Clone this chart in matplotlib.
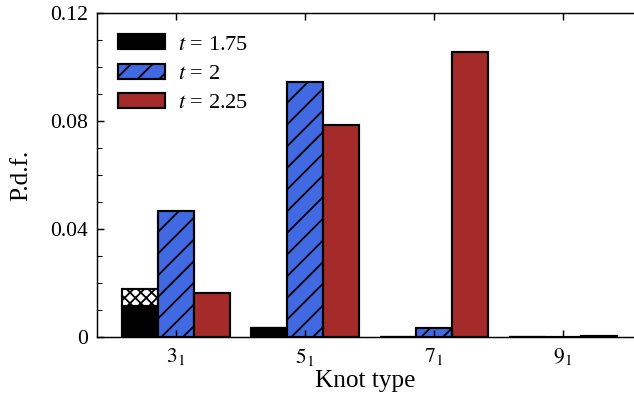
import matplotlib
matplotlib.use('Agg')
import matplotlib.pyplot as plt
import numpy as np

plt.rcParams['font.family'] = 'Liberation Serif'
plt.rcParams['mathtext.fontset'] = 'stix'
plt.rcParams['hatch.linewidth'] = 1.0

knots = ['$3_1$', '$5_1$', '$7_1$', '$9_1$']
p_175 = [0.0116, 0.0032, 0.0, 0.0]
p_175_extra = [0.0061, 0.0, 0.0, 0.0]   # crosshatched part on top of t=1.75
p_2 = [0.0467, 0.0944, 0.0032, 0.0]
p_225 = [0.0162, 0.0785, 0.1057, 0.0003]

x = np.arange(len(knots))
w = 0.28

fig = plt.figure(figsize=(634 / 130, 398 / 130), dpi=130)
ax = fig.add_axes([97 / 634, 1 - 337 / 398, 1 - 97 / 634, (337 - 13) / 398])

ax.bar(x - w, p_175, w, color='black', edgecolor='black', lw=1.2, label='$t$ = 1.75')
ax.bar(x - w, p_175_extra, w, bottom=p_175, color='white', edgecolor='black',
       hatch='xxxx', lw=1.2)
ax.bar(x, p_2, w, color='royalblue', edgecolor='black', hatch='//', lw=1.2,
       label='$t$ = 2')
ax.bar(x + w, p_225, w, color='#A52A2A', edgecolor='black', lw=1.2,
       label='$t$ = 2.25')

ax.set_xlim(-0.61, 3.55)
ax.set_ylim(0, 0.12)
ax.set_xticks(x)
ax.set_xticklabels(knots, fontsize=13)
ax.set_yticks([0, 0.04, 0.08, 0.12])
ax.set_yticklabels(['0', '0.04', '0.08', '0.12'])
ax.set_yticks(np.arange(0, 0.121, 0.01), minor=True)
ax.tick_params(which='both', direction='in', top=True, labelsize=12, pad=5)
ax.tick_params(which='major', length=4)
ax.tick_params(which='minor', length=2.5)
ax.spines['right'].set_visible(False)

ax.set_xlabel('Knot type', fontsize=14, labelpad=1)
ax.set_ylabel('P.d.f.', fontsize=14, labelpad=10)

ax.legend(loc='upper left', frameon=False, fontsize=12.4, handlelength=2.1,
          handleheight=0.65, handletextpad=0.55, labelspacing=0.4,
          borderaxespad=0.45, borderpad=0.5)

fig.savefig('out.png', dpi=130)
